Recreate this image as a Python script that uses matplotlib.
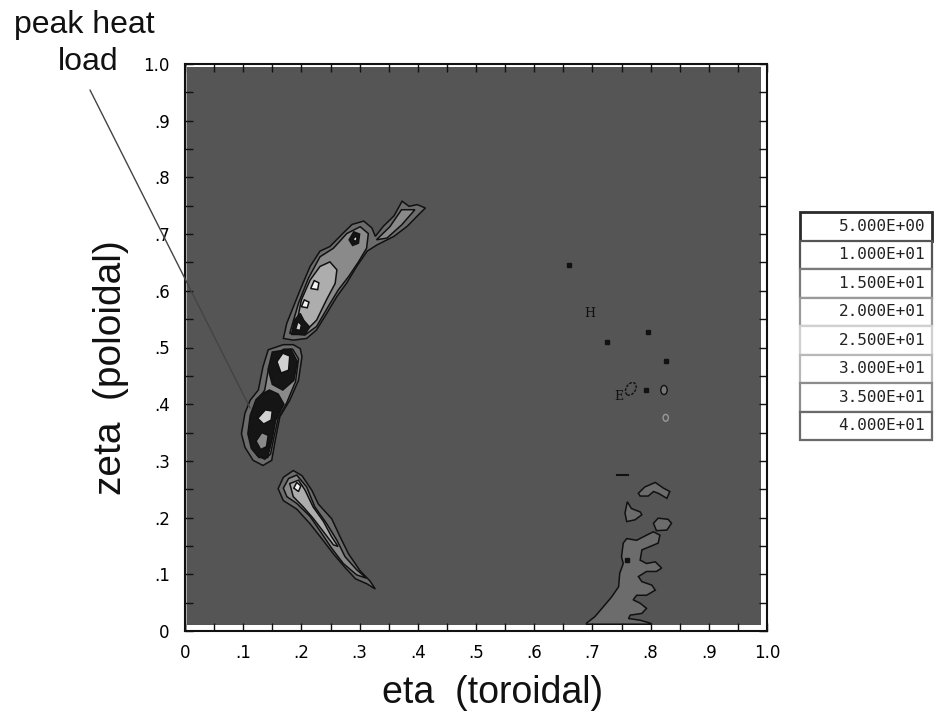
import matplotlib.pyplot as plt
from matplotlib.patches import Rectangle, Polygon, Ellipse

# axis ticks
tick_vals = [0, .1, .2, .3, .4, .5, .6, .7, .8, .9, 1.0]
tick_labels = ['0', '.1', '.2', '.3', '.4', '.5', '.6', '.7', '.8', '.9', '1.0']

# contour levels shown in the key
legend_levels = ['5.000E+00', '1.000E+01', '1.500E+01', '2.000E+01',
                 '2.500E+01', '3.000E+01', '3.500E+01', '4.000E+01']
legend_edges = ['#2a2a2a', '#555555', '#7a7a7a', '#9a9a9a',
                '#d0d0d0', '#b8b8b8', '#8c8c8c', '#6a6a6a']

# fill colour per band (background is below 5)
level_colors = {'bg': '#555555', 'l1': '#6c6c6c', 'l2': '#8a8a8a',
                'l3': '#adadad', 'l4': '#d2d2d2', 'l5': '#f4f4f4', 'pk': '#151515'}

# heat load islands, outlines (eta, zeta)
upper_l1 = [(0.169, 0.516), (0.175, 0.543), (0.198, 0.602), (0.215, 0.643), (0.232, 0.670),
            (0.249, 0.678), (0.272, 0.702), (0.287, 0.717), (0.307, 0.723), (0.321, 0.711),
            (0.327, 0.696), (0.341, 0.714), (0.359, 0.732), (0.373, 0.758), (0.385, 0.749),
            (0.399, 0.752), (0.413, 0.746), (0.402, 0.735), (0.382, 0.714), (0.359, 0.696),
            (0.330, 0.681), (0.313, 0.670), (0.295, 0.643), (0.278, 0.614), (0.261, 0.590),
            (0.244, 0.561), (0.226, 0.531), (0.209, 0.516), (0.186, 0.513)]
upper_l2 = [(0.180, 0.525), (0.195, 0.578), (0.212, 0.622), (0.232, 0.660), (0.255, 0.675),
            (0.278, 0.701), (0.301, 0.713), (0.315, 0.701), (0.312, 0.675), (0.298, 0.651),
            (0.281, 0.625), (0.263, 0.601), (0.246, 0.572), (0.226, 0.537), (0.206, 0.522)]
upper_branch_l2 = [(0.329, 0.690), (0.352, 0.713), (0.372, 0.743), (0.395, 0.743),
                   (0.372, 0.716), (0.347, 0.693)]
upper_l3 = [(0.192, 0.543), (0.200, 0.584), (0.215, 0.619), (0.232, 0.643), (0.249, 0.651),
            (0.261, 0.637), (0.258, 0.613), (0.243, 0.584), (0.226, 0.548), (0.209, 0.531)]
upper_l4a = [(0.216, 0.604), (0.222, 0.618), (0.230, 0.614), (0.228, 0.602)]
upper_l4b = [(0.200, 0.572), (0.205, 0.584), (0.213, 0.580), (0.210, 0.570)]
upper_pk = [(0.282, 0.690), (0.290, 0.704), (0.300, 0.700), (0.298, 0.684), (0.288, 0.680)]
upper_pk_core = [(0.289, 0.690), (0.292, 0.697), (0.296, 0.692), (0.293, 0.687)]
upper_base_pk = [(0.183, 0.523), (0.188, 0.548), (0.198, 0.560), (0.204, 0.548),
                 (0.214, 0.536), (0.206, 0.523)]
upper_base_l4 = [(0.190, 0.532), (0.194, 0.546), (0.200, 0.540), (0.198, 0.530)]

mid_l1 = [(0.169, 0.505), (0.143, 0.496), (0.134, 0.466), (0.126, 0.425), (0.112, 0.407),
          (0.103, 0.384), (0.097, 0.348), (0.103, 0.324), (0.117, 0.301), (0.134, 0.292),
          (0.149, 0.301), (0.155, 0.336), (0.163, 0.378), (0.180, 0.407), (0.195, 0.442),
          (0.201, 0.484), (0.198, 0.498), (0.186, 0.505)]
mid_l2 = [(0.170, 0.497), (0.150, 0.485), (0.143, 0.460), (0.137, 0.425), (0.124, 0.405),
          (0.115, 0.383), (0.110, 0.350), (0.114, 0.328), (0.124, 0.310), (0.137, 0.303),
          (0.147, 0.312), (0.152, 0.338), (0.160, 0.375), (0.175, 0.403), (0.190, 0.440),
          (0.195, 0.480), (0.185, 0.497)]
mid_pk_low = [(0.122, 0.408), (0.112, 0.380), (0.108, 0.348), (0.114, 0.322), (0.127, 0.306),
              (0.142, 0.306), (0.150, 0.340), (0.156, 0.372), (0.170, 0.400), (0.160, 0.418),
              (0.145, 0.425), (0.132, 0.418)]
mid_pk_high = [(0.150, 0.492), (0.143, 0.462), (0.150, 0.435), (0.168, 0.425), (0.187, 0.442),
               (0.193, 0.475), (0.182, 0.497)]
mid_l4a = [(0.158, 0.475), (0.165, 0.455), (0.178, 0.460), (0.180, 0.485), (0.168, 0.490)]
mid_l4b = [(0.125, 0.375), (0.135, 0.365), (0.148, 0.372), (0.150, 0.388), (0.138, 0.390)]
mid_l3 = [(0.122, 0.335), (0.130, 0.320), (0.140, 0.325), (0.143, 0.345), (0.132, 0.350)]

lower_l1 = [(0.160, 0.251), (0.169, 0.271), (0.186, 0.283), (0.201, 0.274), (0.218, 0.248),
            (0.229, 0.224), (0.252, 0.198), (0.267, 0.165), (0.281, 0.136), (0.301, 0.106),
            (0.318, 0.088), (0.327, 0.074), (0.313, 0.083), (0.293, 0.092), (0.275, 0.112),
            (0.255, 0.136), (0.238, 0.159), (0.215, 0.189), (0.192, 0.215), (0.169, 0.230)]
lower_l2 = [(0.169, 0.252), (0.178, 0.269), (0.192, 0.275), (0.209, 0.254), (0.223, 0.219),
            (0.243, 0.190), (0.261, 0.160), (0.275, 0.131), (0.295, 0.108), (0.312, 0.093),
            (0.295, 0.099), (0.272, 0.119), (0.252, 0.146), (0.235, 0.172), (0.215, 0.202),
            (0.192, 0.225), (0.175, 0.237)]
lower_l3 = [(0.180, 0.260), (0.195, 0.266), (0.206, 0.249), (0.220, 0.219), (0.238, 0.193),
            (0.252, 0.166), (0.263, 0.149), (0.255, 0.152), (0.238, 0.175), (0.220, 0.199),
            (0.203, 0.219), (0.186, 0.237)]
lower_l4 = [(0.187, 0.252), (0.192, 0.262), (0.199, 0.256), (0.195, 0.246)]

right_l1 = [(0.690, 0.012), (0.690, 0.014), (0.704, 0.025), (0.719, 0.043), (0.733, 0.060),
            (0.745, 0.078), (0.747, 0.102), (0.753, 0.119), (0.750, 0.131), (0.753, 0.155),
            (0.759, 0.163), (0.776, 0.160), (0.793, 0.169), (0.805, 0.175), (0.816, 0.169),
            (0.813, 0.155), (0.799, 0.149), (0.785, 0.143), (0.782, 0.125), (0.793, 0.119),
            (0.808, 0.122), (0.819, 0.111), (0.810, 0.105), (0.793, 0.105), (0.779, 0.096),
            (0.785, 0.087), (0.802, 0.081), (0.808, 0.072), (0.793, 0.063), (0.776, 0.063),
            (0.770, 0.055), (0.782, 0.049), (0.793, 0.040), (0.785, 0.031), (0.765, 0.028),
            (0.762, 0.022), (0.782, 0.019), (0.799, 0.014), (0.802, 0.012)]
right_l1_b = [(0.805, 0.190), (0.813, 0.199), (0.830, 0.197), (0.836, 0.190),
              (0.828, 0.178), (0.810, 0.177)]
right_l1_c = [(0.760, 0.228), (0.767, 0.216), (0.782, 0.210), (0.785, 0.205),
              (0.773, 0.196), (0.759, 0.193), (0.756, 0.208)]
right_l1_d = [(0.779, 0.243), (0.790, 0.254), (0.808, 0.262), (0.822, 0.252), (0.833, 0.246),
              (0.828, 0.234), (0.813, 0.243), (0.805, 0.246), (0.796, 0.238), (0.782, 0.238)]

islands = [('l1', upper_l1), ('l2', upper_l2), ('l2', upper_branch_l2), ('l3', upper_l3),
           ('l5', upper_l4a), ('l5', upper_l4b), ('pk', upper_pk), ('l5', upper_pk_core),
           ('pk', upper_base_pk), ('l4', upper_base_l4),
           ('l1', mid_l1), ('l2', mid_l2), ('pk', mid_pk_low), ('pk', mid_pk_high),
           ('l4', mid_l4a), ('l4', mid_l4b), ('l2', mid_l3),
           ('l1', lower_l1), ('l2', lower_l2), ('l3', lower_l3), ('l5', lower_l4),
           ('l1', right_l1), ('l1', right_l1_b), ('l1', right_l1_c), ('l1', right_l1_d)]

# isolated specks on the right
speck_x = [0.659, 0.725, 0.795, 0.826, 0.792, 0.760]
speck_y = [0.646, 0.510, 0.528, 0.477, 0.425, 0.126]
dash_x = [0.742, 0.762]
dash_y = [0.275, 0.275]

W, H = 935, 725
fig = plt.figure(figsize=(W / 100, H / 100), dpi=100)
ax = fig.add_axes([185 / W, 94 / H, 582 / W, 567 / H])
ax.set_xlim(0, 1)
ax.set_ylim(0, 1)
ax.set_facecolor('white')

ax.add_patch(Rectangle((0, 0), 0.004, 1, facecolor='#b4b4b4', edgecolor='none', zorder=0.5))
ax.add_patch(Rectangle((0.004, 0.011), 0.986, 0.983, facecolor=level_colors['bg'],
                       edgecolor='none', zorder=0.6))

for lev, pts in islands:
    ax.add_patch(Polygon(pts, closed=True, facecolor=level_colors[lev],
                         edgecolor='#111111', linewidth=1.1, zorder=1))

ax.plot(speck_x, speck_y, 's', color='#111111', markersize=2.5, zorder=2)
ax.plot(dash_x, dash_y, '-', color='#111111', lw=1.5, zorder=2)
ax.add_patch(Ellipse((0.766, 0.427), 0.016, 0.024, angle=-30, facecolor='none',
                     edgecolor='#111111', lw=1, ls=(0, (2, 1)), zorder=2))
ax.add_patch(Ellipse((0.823, 0.425), 0.011, 0.016, facecolor='#777777',
                     edgecolor='#111111', lw=1, zorder=2))
ax.add_patch(Ellipse((0.826, 0.376), 0.009, 0.012, facecolor='none',
                     edgecolor='#999999', lw=1, zorder=2))
ax.text(0.695, 0.560, 'H', family='DejaVu Serif', fontsize=9, color='#111111',
        ha='center', va='center', zorder=2)
ax.text(0.745, 0.413, 'E', family='DejaVu Serif', fontsize=9, color='#111111',
        ha='center', va='center', zorder=2)

for s in ax.spines.values():
    s.set_linewidth(1.5)
    s.set_color('#111111')
ax.set_xticks(tick_vals)
ax.set_xticklabels(tick_labels)
ax.set_yticks(tick_vals)
ax.set_yticklabels(tick_labels)
ax.set_xticks([v + 0.05 for v in tick_vals[:-1]], minor=True)
ax.set_yticks([v + 0.05 for v in tick_vals[:-1]], minor=True)
ax.tick_params(which='both', direction='in', length=6, width=1, color='#111111',
               top=True, right=True)
ax.tick_params(axis='x', labelsize=12, pad=9)
ax.tick_params(axis='y', labelsize=12, pad=11)

# axis titles
fig.text(493 / W, 1 - 703 / H, 'eta  (toroidal)', family='Liberation Sans', fontsize=27,
         ha='center', va='baseline', color='#111111')
fig.text(111 / W, 1 - 368 / H, 'zeta  (poloidal)', family='Liberation Sans', fontsize=28,
         rotation=90, ha='center', va='center', color='#111111')

# callout, two lines kept as separate texts
fig.text(84 / W, 1 - 33 / H, 'peak heat', family='Liberation Sans', fontsize=23,
         ha='center', va='baseline', color='#111111')
fig.text(88 / W, 1 - 70 / H, 'load', family='Liberation Sans', fontsize=23,
         ha='center', va='baseline', color='#111111')
ax.annotate('', xy=(0.112, 0.393), xycoords='data',
            xytext=(90 / W, 1 - 90 / H), textcoords='figure fraction',
            arrowprops=dict(arrowstyle='-', color='#444444', lw=1, shrinkA=0, shrinkB=0),
            annotation_clip=False)

# level key
row_h = 28.5
for i, lab in enumerate(legend_levels):
    top = 212 + row_h * i
    fig.add_artist(Rectangle((800 / W, 1 - (top + row_h) / H), 132 / W, row_h / H,
                             transform=fig.transFigure, facecolor='white',
                             edgecolor=legend_edges[i], lw=2 if i == 0 else 1.6))
    fig.text(925 / W, 1 - (top + row_h / 2) / H, lab, family='DejaVu Sans Mono',
             fontsize=11.5, ha='right', va='center', color='#222222')

fig.savefig('out.png', dpi=100)
